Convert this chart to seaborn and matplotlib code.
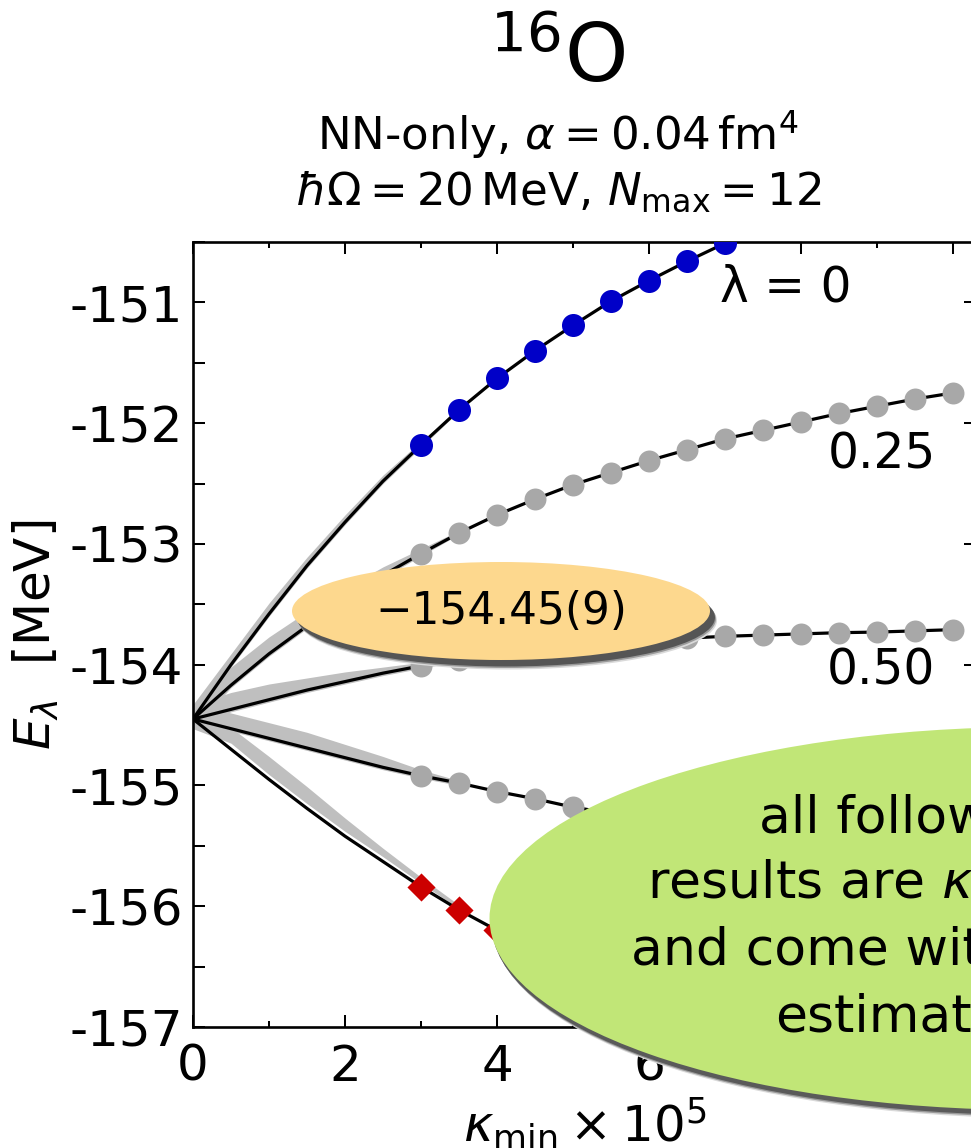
import numpy as np
import pandas as pd
import matplotlib
matplotlib.use("Agg")
import matplotlib.pyplot as plt
import seaborn as sns
from matplotlib.patches import Ellipse
from matplotlib.ticker import MultipleLocator

# ---------------- data ----------------
kappa_data = [3.0, 3.5, 4.0, 4.5, 5.0, 5.5, 6.0, 6.5, 7.0, 7.5, 8.0, 8.5, 9.0, 9.5, 10.0]
E_lam000 = [-152.18, -151.89, -151.63, -151.40, -151.19, -150.99, -150.82, -150.66, -150.51]
E_lam025 = [-153.08, -152.91, -152.76, -152.63, -152.51, -152.41, -152.31, -152.22, -152.13,
            -152.06, -151.99, -151.92, -151.86, -151.80, -151.75]
E_lam050 = [-154.01, -153.96, -153.92, -153.88, -153.85, -153.82, -153.80, -153.78, -153.765,
            -153.755, -153.745, -153.735, -153.73, -153.72, -153.71]
E_lam075 = [-154.92, -154.98, -155.05, -155.11, -155.18, -155.23, -155.28, -155.32, -155.36,
            -155.39, -155.42, -155.45, -155.47, -155.49, -155.51]
E_lam100 = [-155.84, -156.03, -156.20, -156.36, -156.51, -156.65, -156.78, -156.90]

kappa_fit = [0.0, 0.5, 1.0, 1.5, 2.0, 2.5, 3.0, 3.5, 4.0, 4.5, 5.0, 5.5, 6.0, 6.5, 7.0, 7.5,
             8.0, 8.5, 9.0, 9.5, 10.0]
fit_lam000 = [-154.45, -154.00, -153.58, -153.18, -152.82, -152.48, -152.18, -151.89, -151.63,
              -151.40, -151.19, -150.99, -150.82, -150.66, -150.51, -150.37]
fit_lam025 = [-154.45, -154.17, -153.91, -153.68, -153.46, -153.26, -153.08, -152.91, -152.76,
              -152.63, -152.51, -152.41, -152.31, -152.22, -152.13, -152.06, -151.99, -151.92,
              -151.86, -151.80, -151.75]
fit_lam050 = [-154.45, -154.37, -154.29, -154.21, -154.14, -154.07, -154.01, -153.96, -153.92,
              -153.88, -153.85, -153.82, -153.80, -153.78, -153.765, -153.755, -153.745,
              -153.735, -153.73, -153.72, -153.71]
fit_lam075 = [-154.45, -154.53, -154.61, -154.69, -154.77, -154.85, -154.92, -154.98, -155.05,
              -155.11, -155.18, -155.23, -155.28, -155.32, -155.36, -155.39, -155.42, -155.45,
              -155.47, -155.49, -155.51]
fit_lam100 = [-154.45, -154.70, -154.95, -155.19, -155.42, -155.63, -155.84, -156.03, -156.20,
              -156.36, -156.51, -156.65, -156.78, -156.90, -157.01, -157.12]

kappa_band = [0.0, 0.5, 1.0, 1.5, 2.0, 2.5, 3.0, 3.5]
band_lo_000 = [-154.53, -154.02, -153.60, -153.20, -152.84, -152.50, -152.20, -151.90]
band_hi_000 = [-154.33, -153.91, -153.49, -153.11, -152.76, -152.43, -152.15, -151.88]
band_lo_025 = [-154.53, -154.19, -153.93, -153.70, -153.48, -153.28, -153.10, -152.92]
band_hi_025 = [-154.33, -154.02, -153.77, -153.56, -153.37, -153.19, -153.04, -152.89]
band_lo_050 = [-154.53, -154.39, -154.31, -154.23, -154.16, -154.09, -154.03, -153.97]
band_hi_050 = [-154.33, -154.23, -154.16, -154.11, -154.06, -154.02, -153.98, -153.95]
band_lo_075 = [-154.53, -154.55, -154.63, -154.71, -154.79, -154.87, -154.94, -155.00]
band_hi_075 = [-154.33, -154.40, -154.48, -154.56, -154.66, -154.76, -154.87, -154.96]
band_lo_100 = [-154.53, -154.65, -154.91, -155.15, -155.38, -155.59, -155.81, -156.02]
band_hi_100 = [-154.33, -154.52, -154.76, -155.01, -155.27, -155.52, -155.76, -155.99]

y_ticks = [-157, -156, -155, -154, -153, -152, -151]
x_ticks = [0, 2, 4, 6, 8, 10]

# ---------------- style ----------------
sns.set_theme(style="ticks")
plt.rcParams["font.family"] = ["DejaVu Sans"]
plt.rcParams["mathtext.fontset"] = "dejavusans"
plt.rcParams["axes.unicode_minus"] = False
plt.rcParams["axes.edgecolor"] = "black"
plt.rcParams["xtick.color"] = "black"
plt.rcParams["ytick.color"] = "black"
plt.rcParams["text.color"] = "black"
plt.rcParams["axes.labelcolor"] = "black"

W, H = 971, 1148
fig = plt.figure(figsize=(W / 100, H / 100), dpi=100)
ax = fig.add_axes([193 / W, 121 / H, 782.8 / W, 785 / H])

# bands
for lo, hi in [(band_lo_000, band_hi_000), (band_lo_025, band_hi_025), (band_lo_050, band_hi_050),
               (band_lo_075, band_hi_075), (band_lo_100, band_hi_100)]:
    ax.fill_between(kappa_band, lo, hi, color="#bfbfbf", lw=0, zorder=1)

# fit lines
for k, f in [(kappa_fit[:len(fit_lam000)], fit_lam000), (kappa_fit, fit_lam025),
             (kappa_fit, fit_lam050), (kappa_fit, fit_lam075),
             (kappa_fit[:len(fit_lam100)], fit_lam100)]:
    sns.lineplot(x=k, y=f, ax=ax, color="black", lw=2.3, sort=False, estimator=None, zorder=2)

# data points
sns.scatterplot(x=kappa_data[:len(E_lam000)], y=E_lam000, ax=ax, color="#0000c8", s=275,
                linewidth=0, zorder=3)
for E in [E_lam025, E_lam050, E_lam075]:
    sns.scatterplot(x=kappa_data[:len(E)], y=E, ax=ax, color="#a8a8a8", s=250,
                    linewidth=0, zorder=3)
sns.scatterplot(x=kappa_data[:len(E_lam100)], y=E_lam100, ax=ax, color="#cc0000", s=205,
                marker="D", linewidth=0, zorder=3)

ax.set_xlim(0, 10.3)
ax.set_ylim(-157, -150.5)
ax.set_xticks(x_ticks)
ax.set_xticklabels([str(t) for t in x_ticks])
ax.xaxis.set_minor_locator(MultipleLocator(1))
ax.set_yticks(y_ticks)
ax.set_yticklabels([str(t) for t in y_ticks])
ax.yaxis.set_minor_locator(MultipleLocator(0.5))
for s in ax.spines.values():
    s.set_linewidth(1.9)
    s.set_visible(True)
ax.tick_params(axis="both", which="major", direction="in", length=8.6, width=1.45,
               labelsize=36, top=True, right=True)
ax.tick_params(axis="y", which="major", pad=7.2)
ax.tick_params(axis="x", which="major", pad=11.5)
ax.tick_params(axis="y", which="minor", direction="in", length=8.6, width=1.45, right=False, left=True)
ax.tick_params(axis="x", which="minor", direction="in", length=4, width=1.45, top=True, bottom=True)

ax.set_ylabel(r"$E_\lambda$  [MeV]", fontsize=36)
ax.yaxis.set_label_coords((61 - 193) / 782.8, 0.5)
ax.set_xlabel(r"$\kappa_{\mathrm{min}} \times 10^5$", fontsize=36, va="top")
ax.xaxis.set_label_coords(0.5, -(1095 - 1027) / 785)

# curve labels
ax.text(6.93, -150.99, "\u03bb = 0", fontsize=35, ha="left", va="baseline", zorder=4)
ax.text(9.77, -152.374, "0.25", fontsize=35, ha="right", va="baseline", zorder=4)
ax.text(9.77, -154.162, "0.50", fontsize=35, ha="right", va="baseline", zorder=4)

# titles
fig.text(558 / W, 1 - 82 / H, r"$^{16}\mathrm{O}$", fontsize=58, ha="center", va="baseline")
fig.text(558 / W, 1 - 150 / H, r"NN-only, $\alpha = 0.04\,\mathrm{fm}^4$", fontsize=32.5,
         ha="center", va="baseline")
fig.text(558 / W, 1 - 205 / H, r"$\hbar\Omega = 20\,\mathrm{MeV}$, $N_{\mathrm{max}} = 12$",
         fontsize=32.5, ha="center", va="baseline")


def px_ellipse(cx, cy, w, h, color, z):
    e = Ellipse((cx / W, 1 - cy / H), w / W, h / H, transform=fig.transFigure,
                facecolor=color, edgecolor="none", zorder=z)
    fig.add_artist(e)


# orange bubble with shadow
px_ellipse(501 + 7, 611 + 9.5, 418, 98, "#dadada", 5)
px_ellipse(501 + 6, 611 + 8, 418, 98, "#9a9a9a", 5.1)
px_ellipse(501 + 5, 611 + 6.5, 418, 98, "#555555", 5.2)
px_ellipse(501, 611, 418, 98, "#fdd88e", 5.3)
fig.text(501 / W, 1 - 624 / H, "\u2212154.45(9)", fontsize=31.5, ha="center", va="baseline",
         zorder=6)

# green bubble with shadow
px_ellipse(1033 + 4, 918.5 + 8, 1087, 383, "#dadada", 7)
px_ellipse(1033 + 3, 918.5 + 6.5, 1087, 383, "#9a9a9a", 7.1)
px_ellipse(1033 + 2, 918.5 + 5, 1087, 383, "#5a5a5a", 7.2)
px_ellipse(1033, 918.5, 1087, 383, "#c1e677", 7.3)
for txt, x0, yb in [("all following", 759, 833), (r"results are $\kappa$-extrapolated", 647, 898),
                    ("and come with uncertainty", 631, 965), ("estimates", 775, 1032)]:
    fig.text(x0 / W, 1 - yb / H, txt, fontsize=37.5, ha="left", va="baseline", zorder=8)

fig.savefig("out.png", dpi=100)
